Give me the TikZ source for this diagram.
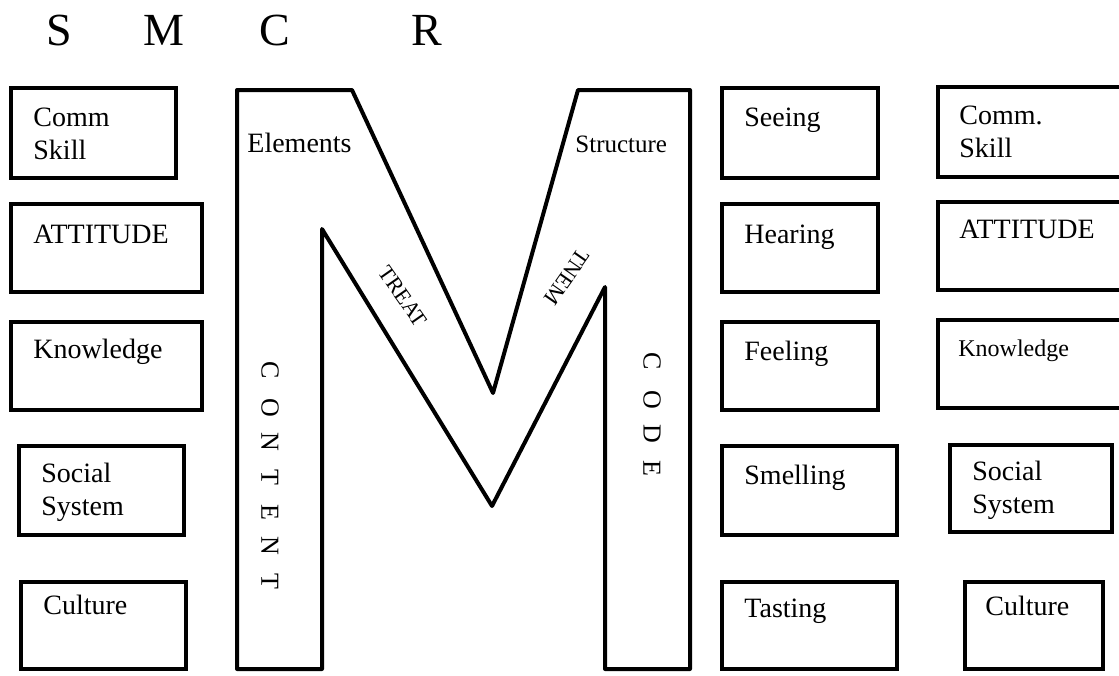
\documentclass[tikz,border=0pt]{standalone}
\usepackage{fontspec}
\setmainfont{Liberation Serif}
\usetikzlibrary{fit}
\begin{document}
\begin{tikzpicture}[x=0.5pt,y=-0.5pt,
  box/.style={draw, line width=2pt, inner sep=0pt, rectangle},
  txt/.style={inner sep=0pt, font=\fontsize{14}{16.5}\selectfont, align=left},
  smalltxt/.style={inner sep=0pt, font=\fontsize{12}{14}\selectfont, align=left},
  hdr/.style={inner sep=0pt, font=\fontsize{23}{27}\selectfont, anchor=base},
  vlet/.style={inner sep=0pt, font=\fontsize{13}{15}\selectfont, rotate=-90},
  diag/.style={inner sep=0pt, font=\fontsize{11}{13}\selectfont},
  mline/.style={line width=2pt, line join=round}]
\useasboundingbox (0,0) rectangle (1119,675);

% header
\node[hdr] (hs) at (59,45) {S};
\node[hdr] (hm) at (164,45) {M};
\node[hdr] (hc) at (275,45) {C};
\node[hdr] (hr) at (427,45) {R};

% left column (source)
\node[box, fit={(11,88) (176,178)}] (l1) {};
\node[box, fit={(11,204) (202,292)}] (l2) {};
\node[box, fit={(11,322) (202,410)}] (l3) {};
\node[box, fit={(19,446) (184,535)}] (l4) {};
\node[box, fit={(21,582) (186,669)}] (l5) {};
\node[txt, anchor=north west] (tl1) at (33,108) {Comm\\Skill};
\node[txt, anchor=base west] (tl2) at (33,243) {ATTITUDE};
\node[txt, anchor=base west] (tl3) at (33,358) {Knowledge};
\node[txt, anchor=north west] (tl4) at (41,463) {Social\\System};
\node[txt, anchor=base west] (tl5) at (43,614) {Culture};

% M shape
\draw[mline] (237,90) -- (352,90) -- (493,393) -- (578,90) -- (690,90)
  -- (690,669) -- (605,669) -- (605,287) -- (492,506) -- (322,229)
  -- (322,669) -- (237,669) -- cycle;
\node[txt, anchor=base west] (elem) at (247,152) {Elements};
\node[inner sep=0pt, font=\fontsize{12.5}{14}\selectfont, anchor=base west] (struc) at (575,152) {Structure};
\node[diag, rotate=-55] (treat) at (403,296) {TREAT};
\node[diag, rotate=235] (tnem) at (567,277) {TNEM};
\foreach \l/\yy [count=\i] in {C/370,O/408,N/442,T/477,E/512,N/546,T/581}
  \node[vlet] (ct\i) at (270,\yy) {\l};
\foreach \l/\yy [count=\i] in {C/361,O/400,D/434,E/468}
  \node[vlet] (cd\i) at (652,\yy) {\l};

% channel column
\node[box, fit={(722,88) (878,178)}] (r1) {};
\node[box, fit={(722,204) (878,292)}] (r2) {};
\node[box, fit={(722,322) (878,410)}] (r3) {};
\node[box, fit={(722,446) (897,535)}] (r4) {};
\node[box, fit={(722,582) (897,669)}] (r5) {};
\node[txt, anchor=base west] (tr1) at (744,126) {Seeing};
\node[txt, anchor=base west] (tr2) at (744,243) {Hearing};
\node[txt, anchor=base west] (tr3) at (744,360) {Feeling};
\node[txt, anchor=base west] (tr4) at (744,484) {Smelling};
\node[txt, anchor=base west] (tr5) at (744,617) {Tasting};

% receiver column
\node[box, fit={(938,87) (1135,177)}] (s1) {};
\node[box, fit={(938,202) (1135,290)}] (s2) {};
\node[box, fit={(938,320) (1135,408)}] (s3) {};
\node[box, fit={(950,445) (1112,532)}] (s4) {};
\node[box, fit={(965,582) (1103,669)}] (s5) {};
\node[txt, anchor=north west] (ts1) at (959,106) {Comm.\\Skill};
\node[txt, anchor=base west] (ts2) at (959,238) {ATTITUDE};
\node[smalltxt, anchor=base west] (ts3) at (958,356) {Knowledge};
\node[txt, anchor=north west] (ts4) at (972,461) {Social\\System};
\node[txt, anchor=base west] (ts5) at (985,615) {Culture};
\end{tikzpicture}
\end{document}
